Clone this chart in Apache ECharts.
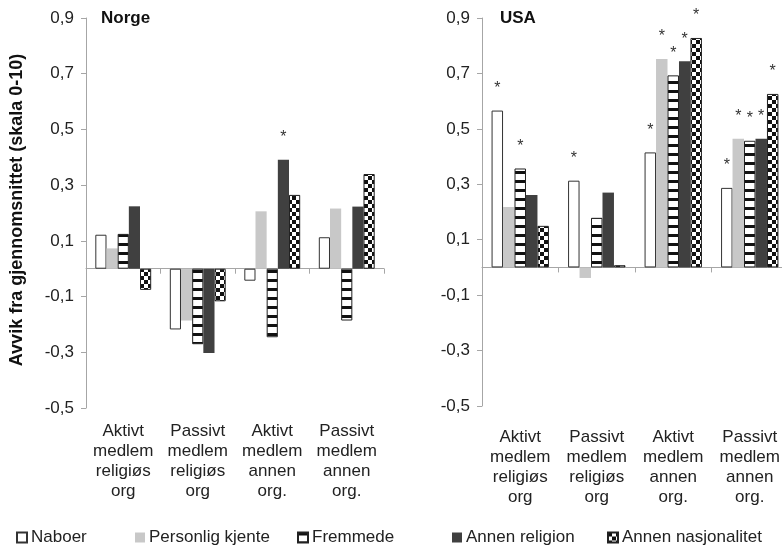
<!DOCTYPE html>
<html>
<head>
<meta charset="utf-8">
<script src="https://cdn.jsdelivr.net/npm/echarts@6/dist/echarts.min.js"></script>
<style>
html,body{margin:0;padding:0;background:#fff;overflow:hidden;}
#chart{width:790px;height:548px;}
</style>
</head>
<body>
<div id="chart"></div>
<script>
// ---- data ----
const categories = ['Aktivt\nmedlem\nreligiøs\norg', 'Passivt\nmedlem\nreligiøs\norg', 'Aktivt\nmedlem\nannen\norg.', 'Passivt\nmedlem\nannen\norg.'];
const seriesNames = ['Naboer', 'Personlig kjente', 'Fremmede', 'Annen religion', 'Annen nasjonalitet'];
const yTicks = [-0.5, -0.3, -0.1, 0.1, 0.3, 0.5, 0.7, 0.9];

// Norge
const norgeNaboer     = [0.122, -0.218, -0.043, 0.113];
const norgePersonlig  = [0.073, -0.186, 0.206, 0.216];
const norgeFremmede   = [0.125, -0.271, -0.246, -0.186];
const norgeReligion   = [0.224, -0.303, 0.391, 0.223];
const norgeNasjonal   = [-0.076, -0.117, 0.265, 0.340];
const norgeSigNaboer    = [0, 0, 0, 0];
const norgeSigPersonlig = [0, 0, 0, 0];
const norgeSigFremmede  = [0, 0, 0, 0];
const norgeSigReligion  = [0, 0, 1, 0];
const norgeSigNasjonal  = [0, 0, 0, 0];

// USA
const usaNaboer     = [0.566, 0.313, 0.415, 0.287];
const usaPersonlig  = [0.218, -0.038, 0.752, 0.464];
const usaFremmede   = [0.357, 0.179, 0.693, 0.457];
const usaReligion   = [0.261, 0.270, 0.744, 0.464];
const usaNasjonal   = [0.150, 0.008, 0.828, 0.626];
const usaSigNaboer    = [1, 1, 1, 1];
const usaSigPersonlig = [0, 0, 1, 1];
const usaSigFremmede  = [1, 0, 1, 1];
const usaSigReligion  = [0, 0, 1, 1];
const usaSigNasjonal  = [0, 0, 1, 1];

// ---- patterns ----
function stripePattern() {
  const c = document.createElement('canvas');
  c.width = 8; c.height = 9;
  const g = c.getContext('2d');
  g.fillStyle = '#ffffff'; g.fillRect(0, 0, 8, 9);
  g.fillStyle = '#111111'; g.fillRect(0, 0, 8, 3);
  return c;
}
function checkerPattern() {
  const c = document.createElement('canvas');
  c.width = 8; c.height = 8;
  const g = c.getContext('2d');
  g.fillStyle = '#ffffff'; g.fillRect(0, 0, 8, 8);
  g.fillStyle = '#111111'; g.fillRect(0, 0, 4, 4); g.fillRect(4, 4, 4, 4);
  return c;
}
const stripe = {image: stripePattern(), repeat: 'repeat'};
const checker = {image: checkerPattern(), repeat: 'repeat'};

const styles = [
  {color: '#ffffff', borderColor: '#333333', borderWidth: 1},
  {color: '#c8c8c8', borderWidth: 0},
  {color: stripe, borderColor: '#222222', borderWidth: 1},
  {color: '#404040', borderWidth: 0},
  {color: checker, borderColor: '#222222', borderWidth: 1}
];

const labelFont = 'Liberation Sans, Arial, sans-serif';
const txtColor = '#222222';
const axisGray = '#a6a6a6';

function makeData(vals, sig) {
  return vals.map((v, i) => ({value: v, label: {show: !!sig[i]}}));
}

function makeSeries(grid, valsList, sigList) {
  return valsList.map((vals, k) => ({
    name: seriesNames[k],
    type: 'bar',
    xAxisIndex: grid * 2,
    yAxisIndex: grid,
    data: makeData(vals, sigList[k]),
    barGap: '0%',
    barCategoryGap: '25%',
    itemStyle: styles[k],
    label: {
      position: 'top', distance: 14, formatter: '*',
      fontSize: 16, color: '#333333', fontFamily: labelFont
    },
    emphasis: {disabled: true},
    animation: false
  }));
}

const norgeVals = [norgeNaboer, norgePersonlig, norgeFremmede, norgeReligion, norgeNasjonal];
const norgeSig = [norgeSigNaboer, norgeSigPersonlig, norgeSigFremmede, norgeSigReligion, norgeSigNasjonal];
const usaVals = [usaNaboer, usaPersonlig, usaFremmede, usaReligion, usaNasjonal];
const usaSig = [usaSigNaboer, usaSigPersonlig, usaSigFremmede, usaSigReligion, usaSigNasjonal];

function xAxes(grid, labelMargin) {
  return [
    {
      type: 'category', gridIndex: grid, data: categories, position: 'bottom',
      axisLine: {show: true, onZero: true, lineStyle: {color: axisGray, width: 1}},
      axisTick: {show: true, length: 5, interval: 0, lineStyle: {color: axisGray}},
      axisLabel: {show: false}
    },
    {
      type: 'category', gridIndex: grid, data: categories, position: 'bottom',
      axisLine: {show: false, onZero: false},
      axisTick: {show: false},
      axisLabel: {show: true, interval: 0, margin: labelMargin, fontSize: 17, lineHeight: 20,
        color: txtColor, fontFamily: labelFont}
    }
  ];
}

function yAxis(grid) {
  return {
    type: 'value', gridIndex: grid, min: yTicks[0], max: yTicks[yTicks.length - 1], interval: 0.2,
    axisLine: {show: true, lineStyle: {color: axisGray, width: 1}},
    axisTick: {show: true, length: 5, lineStyle: {color: axisGray}},
    splitLine: {show: false},
    axisLabel: {
      fontSize: 17, color: txtColor, fontFamily: labelFont, margin: 12,
      formatter: v => v.toFixed(1).replace('.', ',')
    }
  };
}

const legendLefts = [16, 135, 297, 452, 607];
const legends = seriesNames.map((n, i) => ({
  data: [n], left: legendLefts[i], top: 529, padding: 0,
  itemWidth: 10, itemHeight: 10, itemGap: 5,
  icon: 'rect', selectedMode: false,
  textStyle: {fontSize: 17, color: txtColor, fontFamily: labelFont, padding: [0, 0, 0, -1]}
}));

const chart = echarts.init(document.getElementById('chart'), null, {renderer: 'canvas'});
chart.setOption({
  animation: false,
  backgroundColor: '#ffffff',
  title: [
    {text: 'Norge', left: 101, top: 10, padding: 0, textStyle: {fontSize: 17, fontWeight: 'bold', color: '#111', fontFamily: labelFont}},
    {text: 'USA', left: 500, top: 10, padding: 0, textStyle: {fontSize: 17, fontWeight: 'bold', color: '#111', fontFamily: labelFont}}
  ],
  grid: [
    {left: 86, top: 18, width: 298, height: 390},
    {left: 482, top: 18, width: 306, height: 388}
  ],
  xAxis: xAxes(0, 13).concat(xAxes(1, 21)),
  yAxis: [yAxis(0), yAxis(1)],
  legend: legends,
  graphic: [{
    type: 'text', x: 17, y: 210, rotation: Math.PI / 2,
    style: {text: 'Avvik fra gjennomsnittet (skala 0-10)', font: 'bold 18px ' + labelFont,
      fill: '#111', textAlign: 'center', textVerticalAlign: 'middle'}
  }],
  series: makeSeries(0, norgeVals, norgeSig).concat(makeSeries(1, usaVals, usaSig))
});
</script>
</body>
</html>
